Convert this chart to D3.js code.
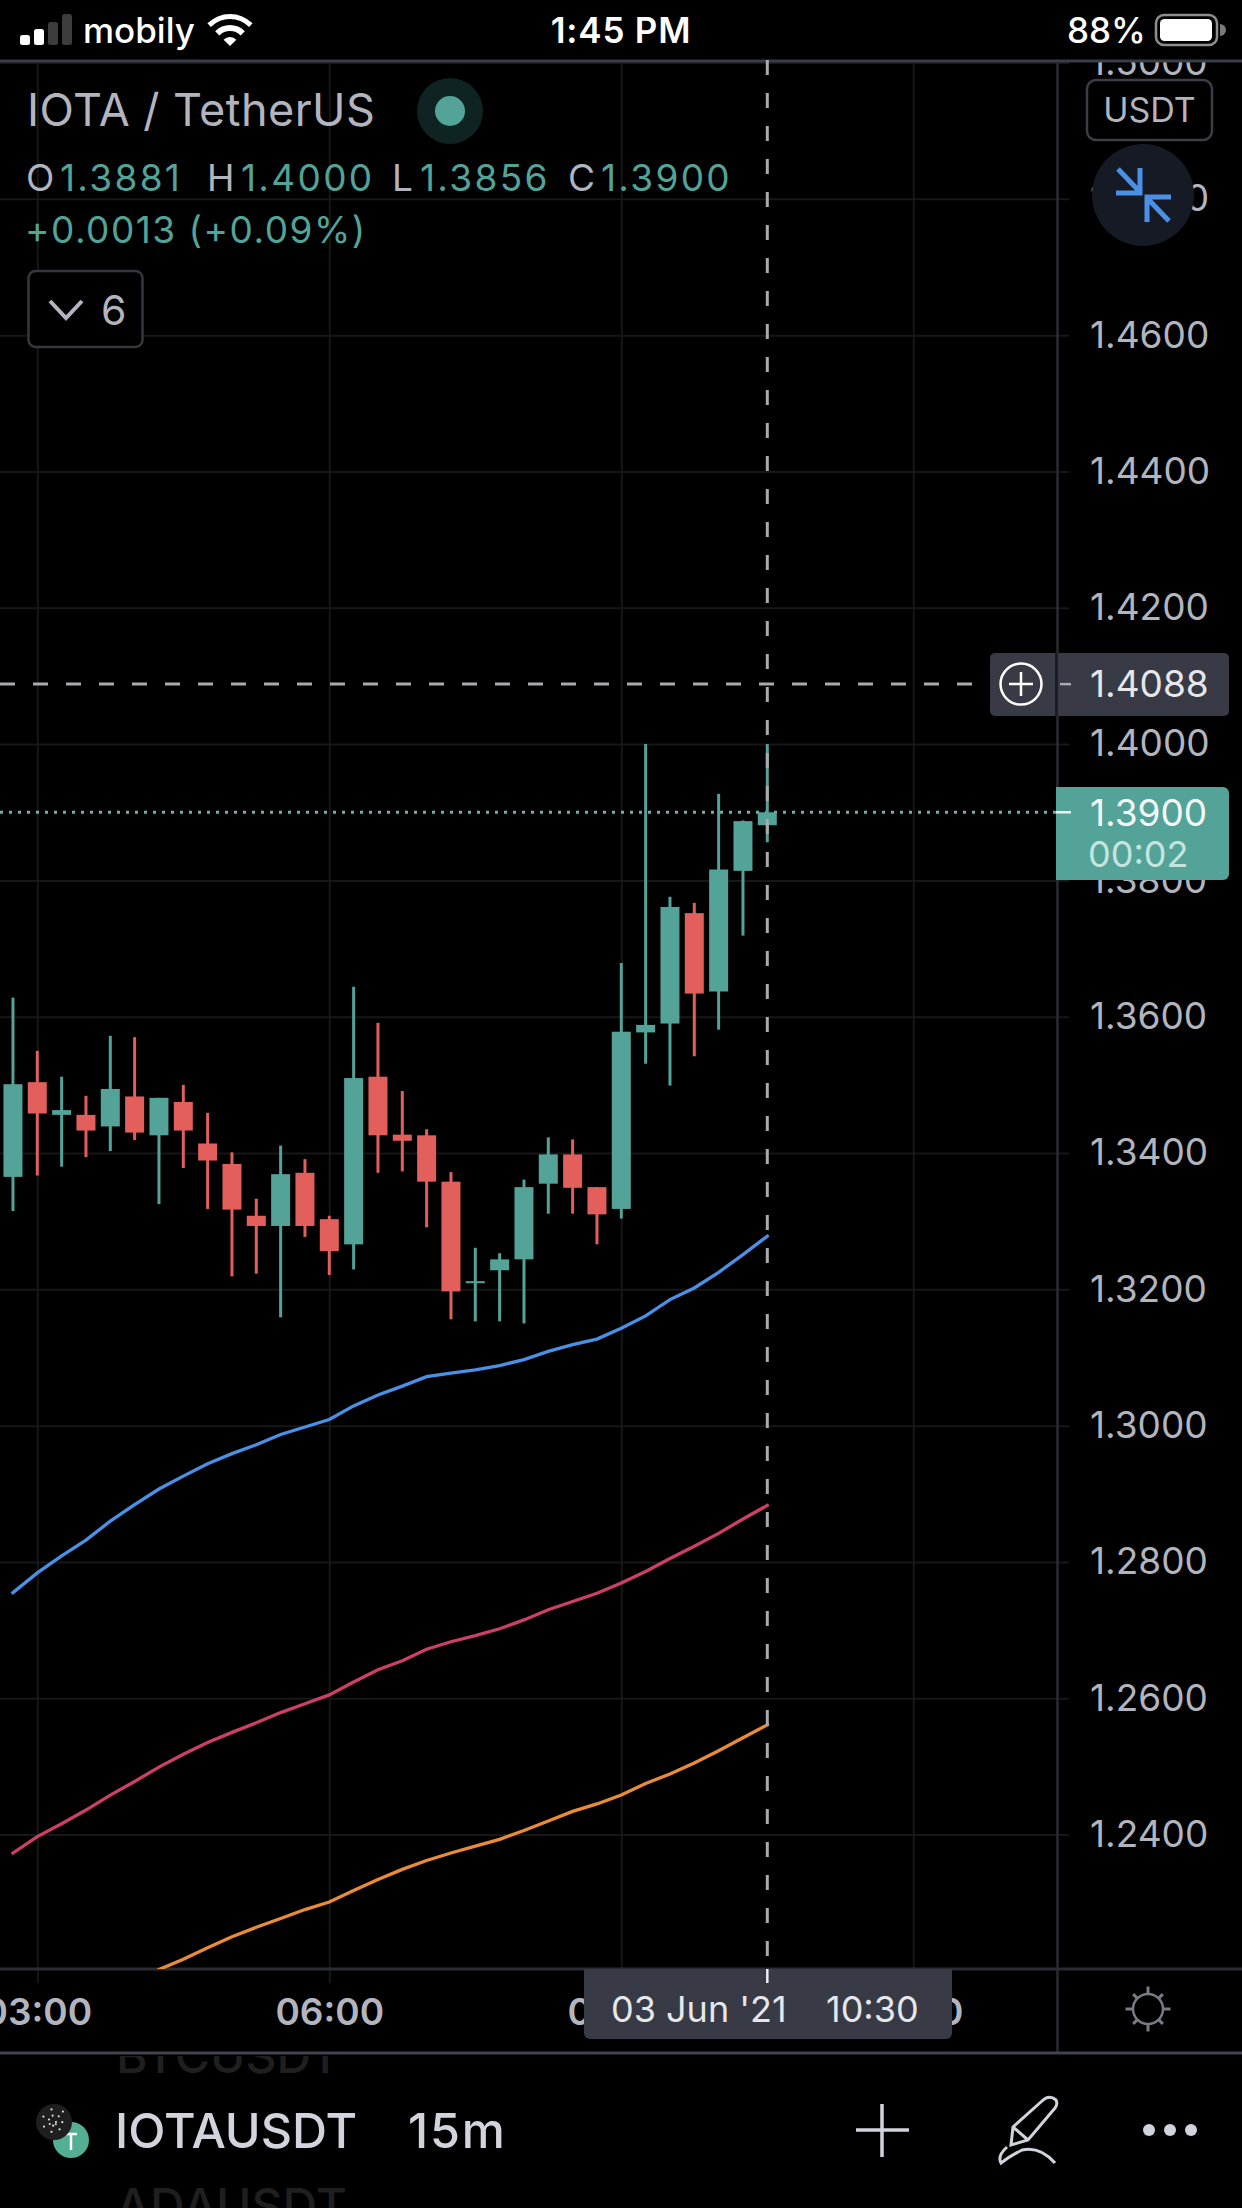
<!DOCTYPE html>
<html><head><meta charset="utf-8">
<style>
html,body{margin:0;padding:0;background:#000;overflow:hidden}
svg{display:block}
text{font-family:Inter,"Noto Sans",sans-serif}
</style>
<script src="https://cdn.jsdelivr.net/npm/d3@7/dist/d3.min.js"></script>
</head><body>
<script>
// ---------- data ----------
const firstBar = "2021-06-03T02:45:00Z";
const barMinutes = 15;
const opens  = [1.3365,1.3504,1.3456,1.3456,1.3439,1.3483,1.3426,1.3475,1.3414,1.3384,1.3308,1.3293,1.3371,1.3303,1.3266,1.3512,1.3427,1.3426,1.3358,1.3209,1.3228,1.3244,1.3355,1.3398,1.3350,1.3318,1.3577,1.3590,1.3752,1.3637,1.3814,1.3881];
const highs  = [1.3628,1.3550,1.3512,1.3484,1.3572,1.3570,1.3481,1.3500,1.3459,1.3401,1.3333,1.3411,1.3391,1.3308,1.3644,1.3591,1.3491,1.3435,1.3372,1.3261,1.3253,1.3361,1.3423,1.3420,1.3350,1.3679,1.4000,1.3776,1.3767,1.3927,1.3888,1.4000];
const lows   = [1.3315,1.3367,1.3380,1.3394,1.3403,1.3419,1.3325,1.3378,1.3318,1.3219,1.3223,1.3159,1.3277,1.3221,1.3229,1.3371,1.3373,1.3291,1.3156,1.3153,1.3153,1.3150,1.3311,1.3311,1.3266,1.3304,1.3531,1.3499,1.3542,1.3581,1.3719,1.3856];
const closes = [1.3501,1.3458,1.3463,1.3433,1.3494,1.3430,1.3481,1.3433,1.3389,1.3317,1.3293,1.3369,1.3293,1.3256,1.3510,1.3426,1.3418,1.3358,1.3197,1.3212,1.3244,1.3350,1.3398,1.3349,1.3310,1.3578,1.3588,1.3761,1.3634,1.3816,1.3887,1.3900];
const maBlue = [1.2755,1.2784,1.2809,1.2832,1.2860,1.2884,1.2907,1.2926,1.2944,1.2959,1.2972,1.2987,1.2998,1.3009,1.3029,1.3045,1.3058,1.3072,1.3077,1.3082,1.3088,1.3097,1.3109,1.3119,1.3127,1.3143,1.3161,1.3185,1.3202,1.3225,1.3251,1.3278];
const maRed  = [1.2373,1.2397,1.2416,1.2436,1.2458,1.2478,1.2499,1.2518,1.2535,1.2550,1.2564,1.2579,1.2592,1.2605,1.2624,1.2642,1.2655,1.2672,1.2683,1.2692,1.2702,1.2715,1.2730,1.2742,1.2754,1.2769,1.2786,1.2805,1.2823,1.2842,1.2863,1.2883];
const maOrange = [null,null,null,null,null,null,1.2202,1.2217,1.2234,1.2250,1.2264,1.2277,1.2290,1.2301,1.2318,1.2334,1.2349,1.2362,1.2373,1.2383,1.2393,1.2406,1.2420,1.2434,1.2445,1.2458,1.2475,1.2489,1.2505,1.2523,1.2542,1.2561];
const priceTicks = [1.50,1.48,1.46,1.44,1.42,1.40,1.38,1.36,1.34,1.32,1.30,1.28,1.26,1.24];
const timeTicks = ["2021-06-03T03:00:00Z","2021-06-03T06:00:00Z","2021-06-03T09:00:00Z","2021-06-03T12:00:00Z"];
const crossPrice = 1.4088;
const crossTime = "2021-06-03T10:30:00Z";
const lastPrice = 1.3900;
const ohlcLabels = [["O","1.3881"],["H","1.4000"],["L","1.3856"],["C","1.3900"]];
const changeLabel = "+0.0013 (+0.09%)";

// ---------- palette ----------
const GREEN="#53a398", RED="#e25f5b", GRID="#171717", PANEL="#383a45", LABEL="#b2b5be";

const W=1242,H=2208,axisX=1057.5,plotTop=62,plotBottom=1969,footY=2053;
const svg=d3.select("body").append("svg").attr("width",W).attr("height",H).attr("viewBox",`0 0 ${W} ${H}`);
svg.append("rect").attr("width",W).attr("height",H).attr("fill","#000");
const defs=svg.append("defs");
defs.append("clipPath").attr("id","plot").append("rect").attr("x",0).attr("y",plotTop).attr("width",axisX).attr("height",plotBottom-plotTop);
defs.append("clipPath").attr("id","gridclip").append("rect").attr("x",0).attr("y",plotTop).attr("width",W).attr("height",H-plotTop);
defs.append("clipPath").attr("id","foot").append("rect").attr("x",0).attr("y",footY+3).attr("width",W).attr("height",H-footY-3);

const x=d3.scaleUtc().domain([new Date(timeTicks[0]),new Date(timeTicks[1])]).range([37.3,329.3]);
const y=d3.scaleLinear().domain([1.24,1.40]).range([1834.6,744.1]);
const t=i=>new Date(+new Date(firstBar)+i*barMinutes*60000);
const idx=d3.range(opens.length);

// axes (their tick lines are the grid)
const gy=svg.append("g").attr("clip-path","url(#gridclip)")
  .call(d3.axisRight(y).tickValues(priceTicks).tickFormat(d3.format(".4f")).tickSize(1069).tickPadding(21));
gy.select(".domain").remove();
gy.selectAll("line").attr("stroke",GRID).attr("stroke-width",2);
gy.selectAll("text").attr("fill",LABEL).attr("font-size",37).attr("font-family","Inter");

const gx=svg.append("g").attr("transform",`translate(0,${plotTop})`)
  .call(d3.axisBottom(x).tickValues(timeTicks.map(d=>new Date(d))).tickFormat(d3.utcFormat("%H:%M")).tickSize(1921).tickPadding(16));
gx.select(".domain").remove();
gx.selectAll("line").attr("stroke",GRID).attr("stroke-width",2);
gx.selectAll("text").attr("fill",LABEL).attr("font-size",37).attr("font-weight",600).attr("font-family","Inter");

// frame lines
svg.append("line").attr("x1",0).attr("x2",W).attr("y1",61).attr("y2",61).attr("stroke","#3a3c46").attr("stroke-width",3);
svg.append("line").attr("x1",0).attr("x2",W).attr("y1",plotBottom).attr("y2",plotBottom).attr("stroke","#2a2c33").attr("stroke-width",3);
svg.append("line").attr("x1",axisX).attr("x2",axisX).attr("y1",plotTop).attr("y2",footY).attr("stroke","#2a2c33").attr("stroke-width",2.5);
svg.append("line").attr("x1",0).attr("x2",W).attr("y1",footY).attr("y2",footY).attr("stroke","#41434d").attr("stroke-width",3);

// marks
const plot=svg.append("g").attr("clip-path","url(#plot)");
const color=i=>closes[i]>=opens[i]?GREEN:RED;
// last price dotted line
plot.append("line").attr("x1",0).attr("x2",axisX).attr("y1",y(lastPrice)).attr("y2",y(lastPrice))
  .attr("stroke","#74b0a7").attr("stroke-width",3).attr("stroke-dasharray","3 6");
plot.selectAll("line.w").data(idx).join("line").attr("class","w")
  .attr("x1",i=>x(t(i))).attr("x2",i=>x(t(i))).attr("y1",i=>y(highs[i])).attr("y2",i=>y(lows[i]))
  .attr("stroke",color).attr("stroke-width",3);
plot.selectAll("rect.b").data(idx).join("rect").attr("class","b")
  .attr("x",i=>x(t(i))-9.5).attr("width",19)
  .attr("y",i=>y(Math.max(opens[i],closes[i])))
  .attr("height",i=>Math.max(2,Math.abs(y(opens[i])-y(closes[i]))))
  .attr("fill",color);
const line=a=>d3.line().defined(i=>a[i]!=null).x(i=>x(t(i))).y(i=>y(a[i]))(idx);
[[maBlue,"#4a90e6"],[maRed,"#cc3f66"],[maOrange,"#ea8b3a"]].forEach(([a,c])=>{
  plot.append("path").attr("d",line(a)).attr("fill","none").attr("stroke",c).attr("stroke-width",3.3).attr("stroke-linecap","square");
});

// crosshair
const CROSS="#a9aaae";
const cx=x(new Date(crossTime)), cy=y(crossPrice);
svg.append("line").attr("x1",cx).attr("x2",cx).attr("y1",60).attr("y2",1969).attr("stroke",CROSS).attr("stroke-width",3).attr("stroke-dasharray","15 18");
svg.append("line").attr("x1",0).attr("x2",985).attr("y1",cy).attr("y2",cy).attr("stroke",CROSS).attr("stroke-width",3).attr("stroke-dasharray","15 18");

// crosshair price label
svg.append("rect").attr("x",990).attr("y",653).attr("width",239).attr("height",63).attr("rx",5).attr("fill",PANEL);
svg.append("line").attr("x1",axisX-1).attr("x2",axisX-1).attr("y1",653).attr("y2",716).attr("stroke","#1c1d27").attr("stroke-width",3);
svg.append("circle").attr("cx",1021).attr("cy",cy).attr("r",20.5).attr("fill","none").attr("stroke","#fff").attr("stroke-width",2.5);
svg.append("path").attr("d",`M1009,${cy}H1033M1021,${cy-12}V${cy+12}`).attr("stroke","#fff").attr("stroke-width",2.5);
svg.append("line").attr("x1",1060).attr("x2",1071).attr("y1",cy).attr("y2",cy).attr("stroke",CROSS).attr("stroke-width",2.5);
svg.append("text").attr("x",1090).attr("y",cy).attr("dy","0.36em").attr("font-size",37).attr("fill","#e6e7ea").text(d3.format(".4f")(crossPrice));

// last price label
const ly=y(lastPrice);
svg.append("path").attr("d","M1056,787H1223a6,6 0 0 1 6,6V874a6,6 0 0 1 -6,6H1056Z").attr("fill",GREEN);
svg.append("line").attr("x1",1056).attr("x2",1071).attr("y1",ly).attr("y2",ly).attr("stroke","#e6f2f0").attr("stroke-width",2.5);
svg.append("text").attr("x",1090).attr("y",ly).attr("dy","0.36em").attr("font-size",37).attr("fill","#f4f8f7").text(d3.format(".4f")(lastPrice));
svg.append("text").attr("x",1088).attr("y",854).attr("dy","0.36em").attr("font-size",36).attr("fill","#c6e4df").text("00:02");

// date label
svg.append("path").attr("d","M584,1969H952V2033a6,6 0 0 1 -6,6H590a6,6 0 0 1 -6,-6Z").attr("fill",PANEL);
svg.append("line").attr("x1",cx).attr("x2",cx).attr("y1",1969).attr("y2",1983).attr("stroke","#eee").attr("stroke-width",2.5);
svg.append("text").attr("x",611).attr("y",2022).attr("font-size",36).attr("fill","#e6e7ea").text("03 Jun '21");
svg.append("text").attr("x",826).attr("y",2022).attr("font-size",36).attr("fill","#e6e7ea").text("10:30");

// gear
const gearC=[1148,2009];
svg.append("circle").attr("cx",gearC[0]).attr("cy",gearC[1]).attr("r",15).attr("fill","none").attr("stroke","#787b86").attr("stroke-width",2.5);
d3.range(8).forEach(k=>{const a=k*Math.PI/4,ro=k%2?21:22.5;
  svg.append("line").attr("x1",gearC[0]+15*Math.cos(a)).attr("y1",gearC[1]+15*Math.sin(a))
   .attr("x2",gearC[0]+ro*Math.cos(a)).attr("y2",gearC[1]+ro*Math.sin(a)).attr("stroke","#787b86").attr("stroke-width",3);});

// status bar
[[20,10],[34,16],[48,23],[62,31]].forEach(([bx,h],k)=>{
  svg.append("rect").attr("x",bx).attr("y",45-h).attr("width",10).attr("height",h).attr("rx",2.5).attr("fill",k<2?"#fff":"#3c3c3c");
});
const st=(s,xp,yp,fs,an,w,ls)=>svg.append("text").attr("x",xp).attr("y",yp).attr("font-size",fs).attr("fill","#fff").attr("text-anchor",an||"start").attr("font-weight",w||500).attr("letter-spacing",ls||0).text(s);
st("mobily",83,43,35);
st("1:45 PM",621,43,35,"middle",600,0.8);
st("88%",1067,43,35);
const wifi=d3.arc().startAngle(-Math.PI/4).endAngle(Math.PI/4);
[[0,9],[14,21],[26,32]].forEach(([a,b],k)=>{
  svg.append("path").attr("transform","translate(230,46)").attr("d",wifi({innerRadius:k?a+1:0,outerRadius:b})).attr("fill","#fff");
});
svg.append("rect").attr("x",1156).attr("y",15).attr("width",61).attr("height",30).attr("rx",8).attr("fill","none").attr("stroke","#8e8e8e").attr("stroke-width",2.5);
svg.append("rect").attr("x",1160).attr("y",19).attr("width",52).attr("height",22).attr("rx",4.5).attr("fill","#fff");
svg.append("path").attr("d","M1220,24a6,6 0 0 1 0,12Z").attr("fill","#7a7a7a");

// legend block
svg.append("text").attr("x",27).attr("y",126).attr("font-size",45).attr("letter-spacing",0.45).attr("fill",LABEL).text("IOTA / TetherUS");
svg.append("circle").attr("cx",450).attr("cy",111).attr("r",33).attr("fill","#0f2422");
svg.append("circle").attr("cx",450).attr("cy",111).attr("r",15).attr("fill",GREEN);
const ohlcX=[26,207,392,568], valX=[60,241,420,601];
ohlcLabels.forEach(([k,v],i)=>{
  svg.append("text").attr("x",ohlcX[i]).attr("y",191).attr("font-size",37).attr("fill",LABEL).text(k);
  svg.append("text").attr("x",valX[i]).attr("y",191).attr("font-size",37).attr("letter-spacing",2.3).attr("fill",GREEN).text(v);
});
svg.append("text").attr("x",25).attr("y",243).attr("font-size",37).attr("letter-spacing",1.5).attr("fill",GREEN).text(changeLabel);
svg.append("rect").attr("x",28.5).attr("y",271).attr("width",114).attr("height",76).attr("rx",7).attr("fill","#000").attr("stroke","#35373f").attr("stroke-width",2.5);
svg.append("path").attr("d","M50,301L66,318L82,301").attr("fill","none").attr("stroke",LABEL).attr("stroke-width",4);
svg.append("text").attr("x",101).attr("y",325).attr("font-size",41).attr("fill",LABEL).text("6");

// currency + collapse button
svg.append("rect").attr("x",1087).attr("y",80).attr("width",125).attr("height",60).attr("rx",9).attr("fill","#000").attr("stroke","#3c3e47").attr("stroke-width",2.5);
svg.append("text").attr("x",1149.5).attr("y",122).attr("text-anchor","middle").attr("font-size",34).attr("fill",LABEL).text("USDT");
svg.append("circle").attr("cx",1143).attr("cy",195).attr("r",51).attr("fill","#161a25");
svg.append("path").attr("d","M1118,169L1140,192M1140,168V193H1116M1169,221L1147,198M1147,222V197H1171").attr("fill","none").attr("stroke","#4a90e6").attr("stroke-width",5);

// bottom bar
const foot=svg.append("g").attr("clip-path","url(#foot)");
foot.append("text").attr("x",116).attr("y",2073).attr("font-size",48).attr("font-weight",500).attr("fill","#1f1f1f").text("BTCUSDT");
foot.append("text").attr("x",116).attr("y",2223).attr("font-size",48).attr("font-weight",500).attr("fill","#1f1f1f").text("ADAUSDT");
foot.append("text").attr("x",115).attr("y",2148).attr("font-size",48.5).attr("font-weight",500).attr("fill","#d1d4dc").text("IOTAUSDT");
foot.append("text").attr("x",408).attr("y",2148).attr("font-size",48.5).attr("letter-spacing",1.8).attr("font-weight",500).attr("fill","#d1d4dc").text("15m");
foot.append("circle").attr("cx",71).attr("cy",2140).attr("r",18).attr("fill","#53ae94");
foot.append("path").attr("d","M65,2134H77M71,2134V2150").attr("stroke","#fff").attr("stroke-width",2.5).attr("fill","none");
foot.append("circle").attr("cx",54).attr("cy",2122).attr("r",18).attr("fill","#1f1f1f");
d3.range(14).forEach(k=>{const a=k*.9,r=2+k*.9;
  foot.append("circle").attr("cx",54+r*Math.cos(a)).attr("cy",2122+r*Math.sin(a)).attr("r",1.1).attr("fill","#ddd");});
foot.append("path").attr("d","M882,2104V2157M856,2130H909").attr("stroke","#d1d4dc").attr("stroke-width",3.5).attr("fill","none");
foot.append("path").attr("d","M1042,2101Q1049,2094 1056,2100Q1058,2104 1055,2108L1028,2140L1011,2145L1013,2127Z M1013,2127L1028,2140").attr("fill","none").attr("stroke","#d1d4dc").attr("stroke-width",3);
foot.append("path").attr("d","M1007,2147Q997,2156 1001,2163Q1010,2156 1022,2150Q1040,2146 1055,2163").attr("fill","none").attr("stroke","#d1d4dc").attr("stroke-width",3);
[1149,1170,1191].forEach(px=>foot.append("circle").attr("cx",px).attr("cy",2130).attr("r",6).attr("fill","#d1d4dc"));
</script>
</body></html>
